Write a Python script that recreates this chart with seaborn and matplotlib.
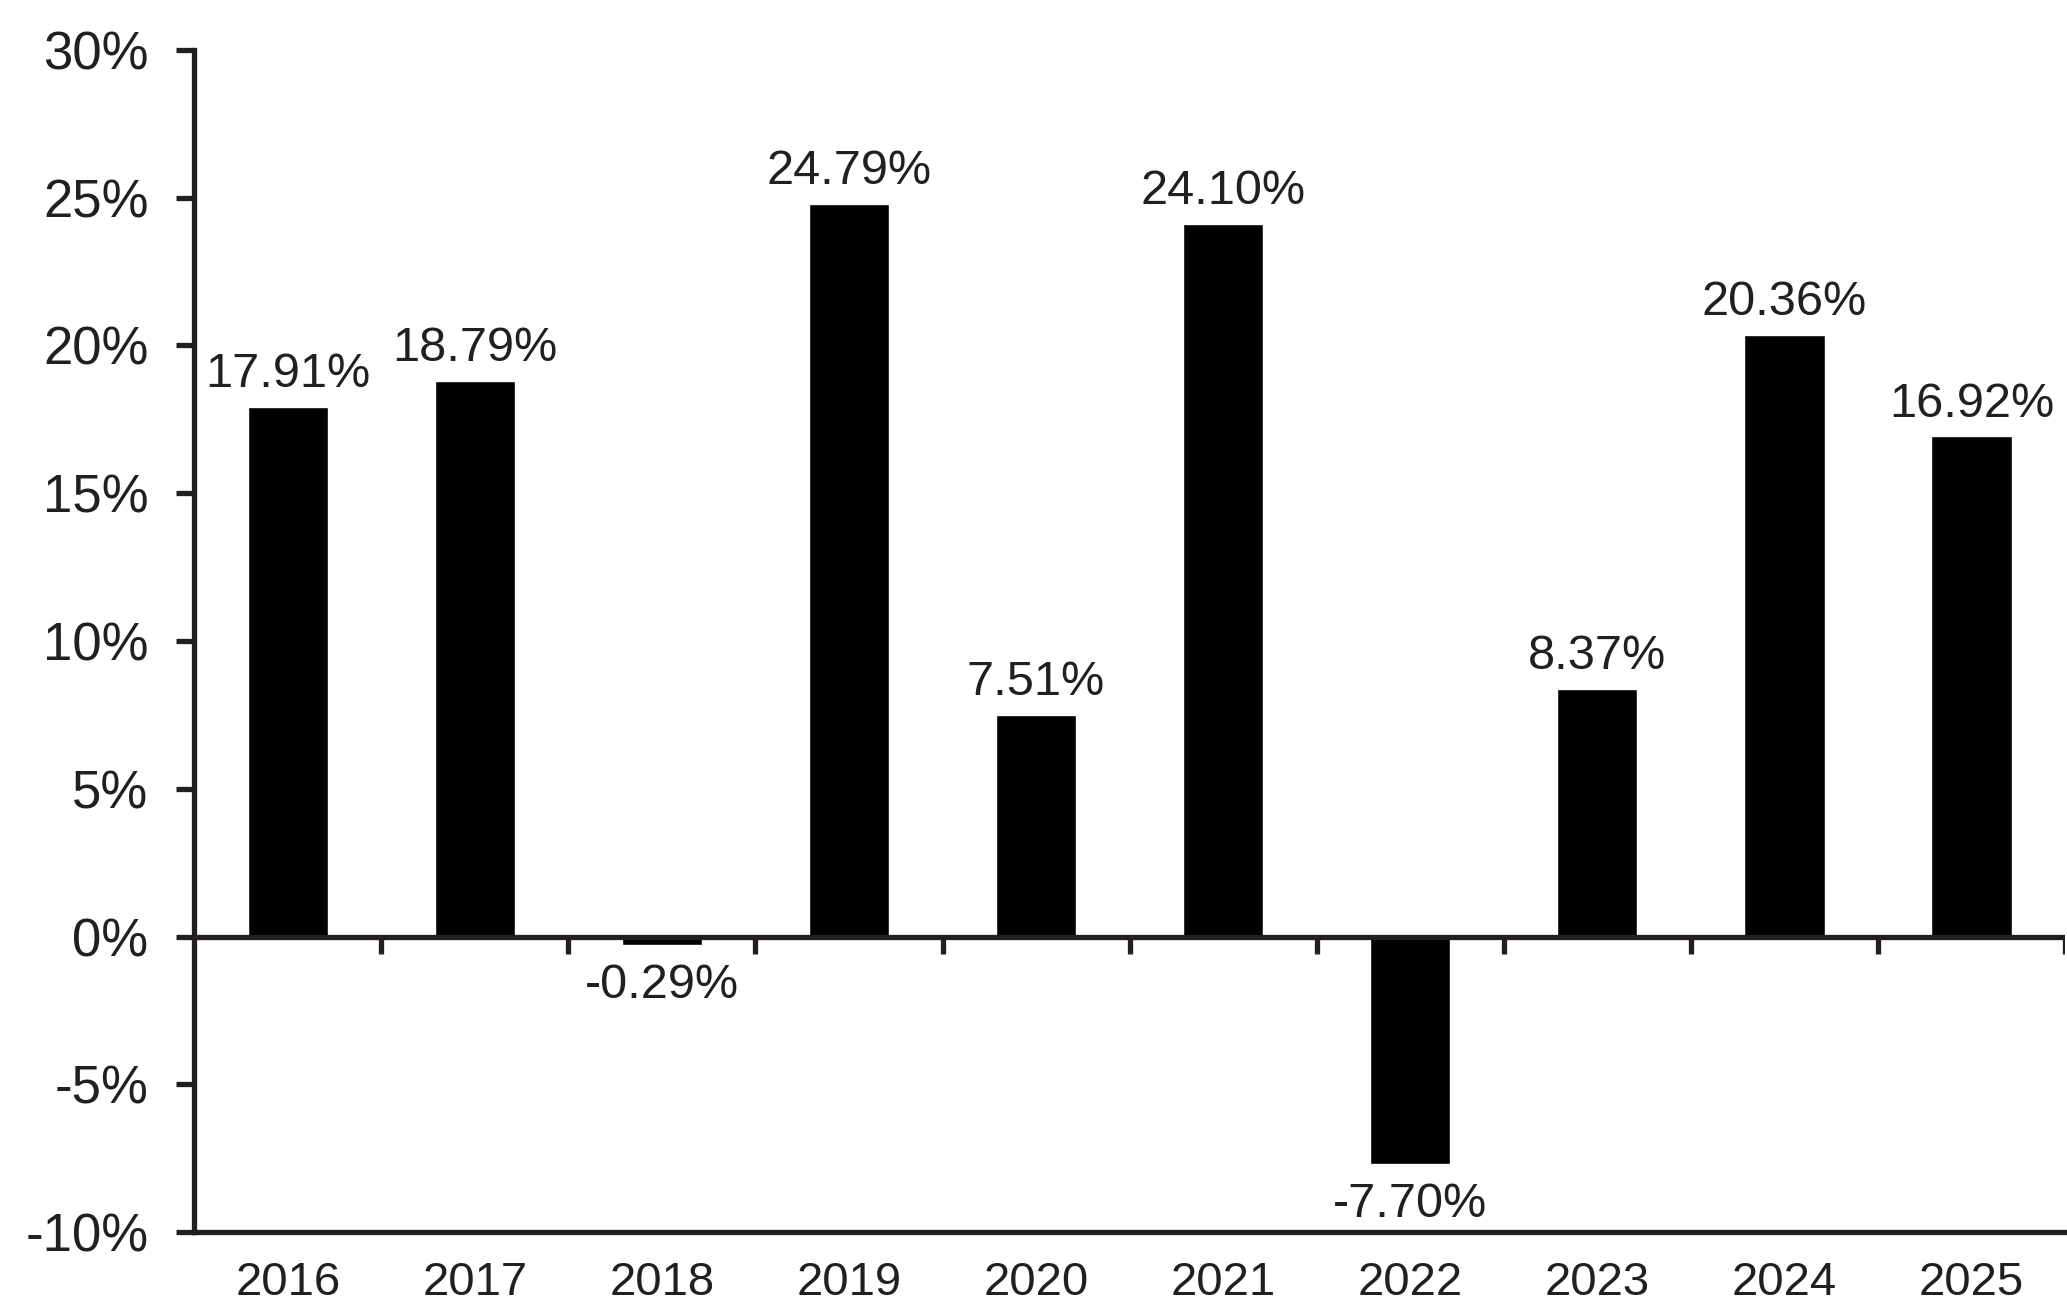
import numpy as np
import pandas as pd
import matplotlib
matplotlib.use("Agg")
import matplotlib.pyplot as plt
import seaborn as sns

# Annual returns (%)
years = ["2016", "2017", "2018", "2019", "2020", "2021", "2022", "2023", "2024", "2025"]
returns = [17.91, 18.79, -0.29, 24.79, 7.51, 24.10, -7.70, 8.37, 20.36, 16.92]
y_ticks = [-10, -5, 0, 5, 10, 15, 20, 25, 30]

df = pd.DataFrame({"year": years, "ret": returns})

sns.set_style("white")
plt.rcParams["font.family"] = ["Liberation Sans", "DejaVu Sans"]
text_color = "#231f20"
lw = 3.8

fig = plt.figure(figsize=(20.67, 13.08), dpi=100)
ax = fig.add_axes([0.094, 0.058, 0.905, 0.904])

sns.barplot(data=df, x="year", y="ret", color="black", saturation=1,
            width=0.43, ax=ax)

ax.set_xlim(-0.5, len(years) - 0.5)
ax.set_ylim(-10, 30)
ax.set_yticks(y_ticks)
ax.set_yticklabels([f"{t}%" for t in y_ticks])
ax.set_xlabel("")
ax.set_ylabel("")

# value labels: positives above, negatives below with a bit more room
bars = ax.containers[0]
ax.bar_label(bars, labels=[f"{v:.2f}%" if v >= 0 else "" for v in returns],
             padding=7, fontsize=35, color=text_color)
ax.bar_label(bars, labels=[f"{v:.2f}%" if v < 0 else "" for v in returns],
             padding=13, fontsize=35, color=text_color)

# zero line with separators between categories
ax.axhline(0, color=text_color, lw=lw, zorder=3)
ax.vlines(np.arange(len(years)) + 0.5, -0.6, 0, color=text_color, lw=lw, zorder=3)

for side in ["top", "right"]:
    ax.spines[side].set_visible(False)
for side in ["left", "bottom"]:
    ax.spines[side].set_color(text_color)
    ax.spines[side].set_linewidth(lw)

ax.tick_params(axis="y", direction="out", length=13, width=lw, color=text_color,
               pad=20, labelsize=38, labelcolor=text_color, left=True)
ax.tick_params(axis="x", length=0, pad=21, labelsize=34, labelcolor=text_color)

fig.savefig("out.png", dpi=100, facecolor="white")
